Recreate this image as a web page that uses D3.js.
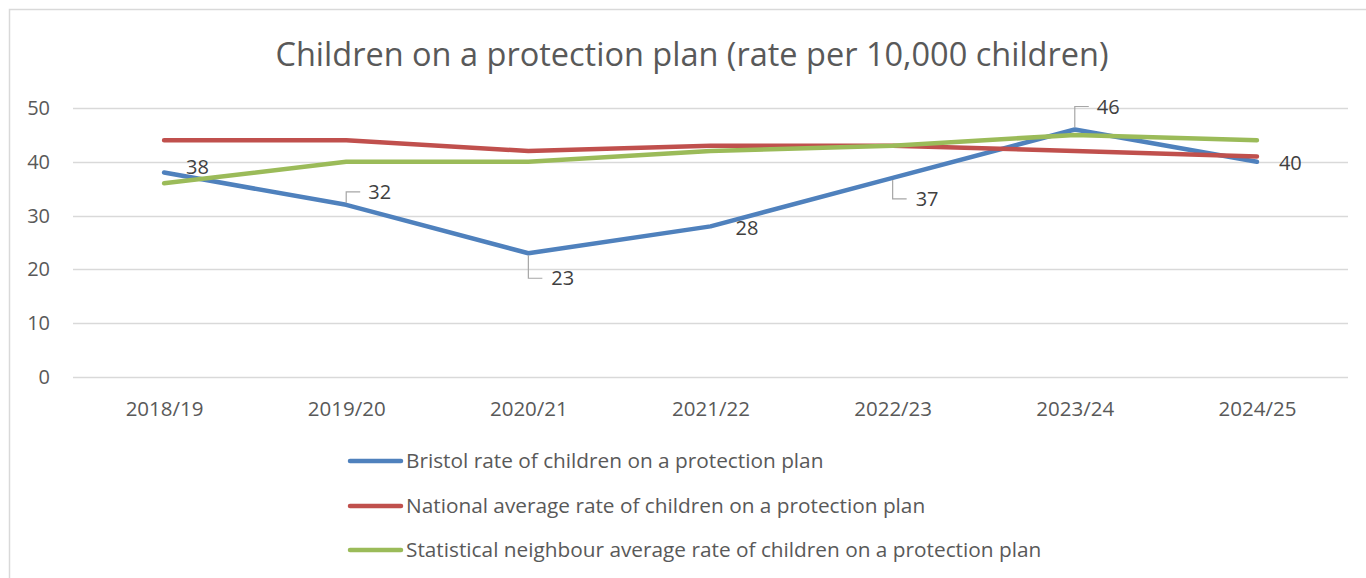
<!DOCTYPE html>
<html>
<head>
<meta charset="utf-8">
<script src="https://cdn.jsdelivr.net/npm/d3@7"></script>
<style>
  html, body { margin: 0; padding: 0; background: #fff; }
  svg { display: block; }
  text { font-family: "Open Sans", "Noto Sans", sans-serif; }
</style>
</head>
<body>
<svg id="chart" width="1366" height="578"></svg>
<script>
const categories = ["2018/19", "2019/20", "2020/21", "2021/22", "2022/23", "2023/24", "2024/25"];
const bristol = [38, 32, 23, 28, 37, 46, 40];
const national = [44, 44, 42, 43, 43, 42, 41];
const statNeighbour = [36, 40, 40, 42, 43, 45, 44];
const yTicks = [0, 10, 20, 30, 40, 50];
const seriesNames = [
  "Bristol rate of children on a protection plan",
  "National average rate of children on a protection plan",
  "Statistical neighbour average rate of children on a protection plan"
];
const titleText = "Children on a protection plan (rate per 10,000 children)";

const colors = ["#4f81bd", "#c0504d", "#9bbb59"];
const svg = d3.select("#chart");

// chart border
svg.append("rect").attr("x", 9.5).attr("y", 9.5).attr("width", 1400).attr("height", 600)
  .attr("fill", "#fff").attr("stroke", "#d9d9d9").attr("stroke-width", 1.5);

const x = d3.scalePoint().domain(categories).range([73, 1348]).padding(0.5);
const y = d3.scaleLinear().domain([0, 50]).range([377, 108]);

// title
svg.append("text").attr("x", 692).attr("y", 66).attr("text-anchor", "middle")
  .attr("font-size", 32.5).attr("fill", "#595959").text(titleText);

// gridlines
svg.append("g").selectAll("line").data(yTicks).join("line")
  .attr("x1", 73).attr("x2", 1348)
  .attr("y1", d => Math.round(y(d)) + 0.5).attr("y2", d => Math.round(y(d)) + 0.5)
  .attr("stroke", "#d9d9d9").attr("stroke-width", 1.5);

// y axis labels
const yAxis = d3.axisLeft(y).tickValues(yTicks).tickSize(0).tickPadding(0);
const gy = svg.append("g").attr("transform", "translate(50,0)").call(yAxis);
gy.select(".domain").remove();
gy.selectAll("text").attr("font-size", 20).attr("fill", "#595959")
  .attr("font-family", "Open Sans, sans-serif");

// x axis labels
const xAxis = d3.axisBottom(x).tickSize(0).tickPadding(0);
const gx = svg.append("g").attr("transform", "translate(0,416)").call(xAxis);
gx.select(".domain").remove();
gx.selectAll("text").attr("y", 0).attr("dy", null).attr("font-size", 20.5).attr("fill", "#595959")
  .attr("font-family", "Open Sans, sans-serif");

// lines
const line = d3.line().x((d, i) => x(categories[i])).y(d => y(d));
[bristol, national, statNeighbour].forEach((s, k) => {
  svg.append("path").datum(s).attr("d", line).attr("fill", "none")
    .attr("stroke", colors[k]).attr("stroke-width", 4.5)
    .attr("stroke-linecap", "round").attr("stroke-linejoin", "round");
});

// data labels for Bristol (offsets are layout only)
const labelLayout = [
  { dx: 22, dy: -6, leader: null },
  { dx: 22, dy: -13, leader: "up" },
  { dx: 23, dy: 25, leader: "down" },
  { dx: 25, dy: 2, leader: null },
  { dx: 23, dy: 21, leader: "down" },
  { dx: 22, dy: -23, leader: "up" },
  { dx: 22, dy: 1, leader: null }
];
const lg = svg.append("g");
bristol.forEach((v, i) => {
  const px = x(categories[i]), py = y(v);
  const L = labelLayout[i];
  const ty = py + L.dy;
  if (L.leader) {
    const startY = L.leader === "up" ? py - 2 : py + 2;
    lg.append("path")
      .attr("d", `M${px},${startY}V${ty}H${px + 14}`)
      .attr("fill", "none").attr("stroke", "#a6a6a6").attr("stroke-width", 1.2);
  }
  lg.append("text").attr("x", px + L.dx).attr("y", ty).attr("dy", "0.35em")
    .attr("font-size", 20).attr("fill", "#404040").text(v);
});

// legend
const legendY = [461, 506, 550];
seriesNames.forEach((n, k) => {
  svg.append("line").attr("x1", 350).attr("x2", 401)
    .attr("y1", legendY[k]).attr("y2", legendY[k])
    .attr("stroke", colors[k]).attr("stroke-width", 4.5).attr("stroke-linecap", "round");
  svg.append("text").attr("x", 406).attr("y", legendY[k]).attr("dy", "0.35em")
    .attr("font-size", 20.8).attr("fill", "#595959").text(n);
});
</script>
</body>
</html>
